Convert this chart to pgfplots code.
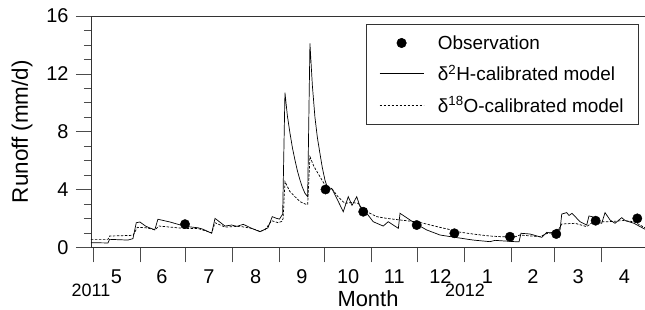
\documentclass[border=0pt]{standalone}
\usepackage{fontspec}
\setmainfont{Liberation Sans}
\usepackage{pgfplots}
\pgfplotsset{compat=1.18}
\pgfplotsset{
  lineleg/.style={legend image code/.code={\draw[##1] (0bp,0bp) -- (44bp,0bp);}},
  markleg/.style={legend image code/.code={\draw[##1,mark repeat=2,mark phase=2] plot coordinates {(0bp,0bp) (22bp,0bp) (44bp,0bp)};}},
}
\pgfplotstableread{
d v
-1.3 0.32
9.9 0.30
11.0 0.55
23.1 0.50
26.4 0.60
28.6 1.70
31.0 1.75
35.0 1.45
40.8 1.20
42.9 1.94
50.9 1.75
60.8 1.45
69.4 1.35
72.7 1.25
78.4 0.97
80.6 2.00
87.2 1.47
91.6 1.54
95.1 1.45
99.3 1.59
104.8 1.31
110.3 1.08
113.6 1.25
115.6 1.35
118.4 2.12
121.3 2.00
123.2 1.95
125.3 2.30
126.8 10.70
128.4 9.10
130.1 7.90
131.7 6.90
133.4 6.04
135.0 5.30
136.7 4.66
138.3 4.15
140.0 3.74
141.8 3.50
143.3 14.10
144.9 11.20
146.6 9.00
148.2 7.60
149.9 6.50
151.5 5.50
153.2 4.66
155.4 3.97
157.7 4.08
161.0 3.39
165.3 2.46
168.6 3.50
171.1 2.90
174.2 3.50
176.4 2.81
180.8 2.35
185.1 1.77
191.7 1.47
195.0 1.77
198.2 1.55
201.7 1.31
202.8 2.35
212.7 1.66
220.4 1.20
229.2 0.85
239.1 0.69
247.9 0.55
251.2 0.50
262.2 0.39
265.5 0.48
278.7 0.39
281.4 0.38
282.7 0.97
288.6 0.92
296.4 0.69
299.7 1.04
302.5 0.98
306.3 1.25
308.5 1.20
309.6 2.30
312.9 2.40
314.4 2.20
316.4 2.35
321.7 1.77
326.1 1.54
327.6 2.17
330.2 2.10
331.5 1.80
336.0 1.66
338.2 2.40
341.5 1.89
344.8 1.66
349.2 2.05
351.5 1.85
357.3 1.66
364.6 1.25
}\hmodel
\pgfplotstableread{
d v
-1.3 0.55
9.9 0.55
11.0 0.78
24.4 0.82
26.6 0.85
29.3 1.38
35.0 1.35
41.0 1.22
43.6 1.47
60.8 1.30
69.4 1.30
78.4 1.00
80.6 1.70
87.2 1.40
97.1 1.45
104.8 1.31
110.3 1.10
113.6 1.20
118.0 1.84
122.4 1.70
124.8 1.80
125.6 2.00
126.8 4.54
130.1 3.85
133.4 3.50
136.7 3.16
140.0 3.00
141.8 2.95
143.3 6.27
145.9 5.60
148.6 5.12
153.2 4.31
158.5 3.97
161.8 3.50
166.4 3.04
171.1 3.10
175.2 3.04
178.5 2.58
187.4 2.12
194.0 2.00
202.8 1.89
214.7 1.75
229.2 1.38
234.7 1.25
240.2 1.08
252.3 0.90
262.2 0.78
270.0 0.73
278.7 0.72
282.0 0.85
295.2 0.73
299.7 0.95
304.0 1.05
306.3 1.00
309.6 1.61
318.4 1.66
326.1 1.43
330.5 1.77
340.4 1.77
350.3 1.85
357.3 1.77
364.6 1.35
}\omodel
\pgfplotstableread{
d v
60.8 1.60
153.6 4.00
178.5 2.46
213.8 1.54
238.7 0.97
275.4 0.73
306.0 0.92
332.0 1.84
359.5 2.00
}\obs
\begin{document}
\begin{tikzpicture}
\path[use as bounding box] (-91bp,-62.7bp) rectangle (554bp,247.3bp);
\begin{axis}[
  scale only axis, width=554bp, height=231.3bp,
  at={(0,0)}, anchor=south west,
  xmin=-1.3, xmax=364.6, ymin=0, ymax=16,
  clip=false,
  axis x line*=bottom, axis y line*=left,
  axis line style={black!80, line width=0.6bp, -},
  xtick align=outside, ytick align=outside,
  major tick length=15bp, minor tick length=7bp,
  every tick/.style={black!70, line width=0.6bp},
  ytick={0,4,8,12,16}, minor y tick num=3,
  yticklabel style={xshift=-4bp},
  xtick={0,31,61,92,123,153,184,214,245,276,305,336},
  xticklabels={},
  extra x ticks={15.5,45.5,76.5,107.5,138,168.5,199,229.5,260.5,290.5,320.5,351},
  extra x tick labels={5,6,7,8,9,10,11,12,1,2,3,4},
  extra x tick style={major tick length=0pt, xticklabel style={yshift=-19bp}},
  /pgf/number format/assume math mode=true,
  ticklabel style={font=\fontsize{20}{24}\selectfont},
  reverse legend,
  legend cell align=left,
  legend style={at={(0.989,0.965)}, anchor=north east, draw=black!80, line width=0.6bp,
    font=\fontsize{19}{22}\selectfont, row sep=10.5bp, inner xsep=13bp, inner ysep=9bp,
    /tikz/every odd column/.append style={column sep=12bp}},
]
\addplot[black, line width=0.7bp, dash pattern=on 2.5bp off 1.5bp, lineleg] table[x=d,y=v] {\omodel};
\addlegendentry{δ\textsuperscript{18}O-calibrated model}
\addplot[black, line width=0.7bp, lineleg] table[x=d,y=v] {\hmodel};
\addlegendentry{δ\textsuperscript{2}H-calibrated model}
\addplot[only marks, mark=*, mark size=4.7bp, black, markleg] table[x=d,y=v] {\obs};
\addlegendentry{Observation}
\draw[black!80, line width=0.6bp] (rel axis cs:0,1) -- (rel axis cs:1,1);
\node[font=\fontsize{18}{21}\selectfont, inner sep=0pt] at ([yshift=-43bp]axis cs:-1.3,0) {2011};
\node[font=\fontsize{18}{21}\selectfont, inner sep=0pt] at ([yshift=-43bp]axis cs:245.7,0) {2012};
\node[font=\fontsize{22}{26}\selectfont, inner sep=0pt] at ([yshift=-51bp]rel axis cs:0.5,0) {Month};
\node[font=\fontsize{22.5}{26}\selectfont, rotate=90] at ([xshift=-69bp]rel axis cs:0,0.5) {Runoff (mm/d)};
\end{axis}
\end{tikzpicture}
\end{document}
